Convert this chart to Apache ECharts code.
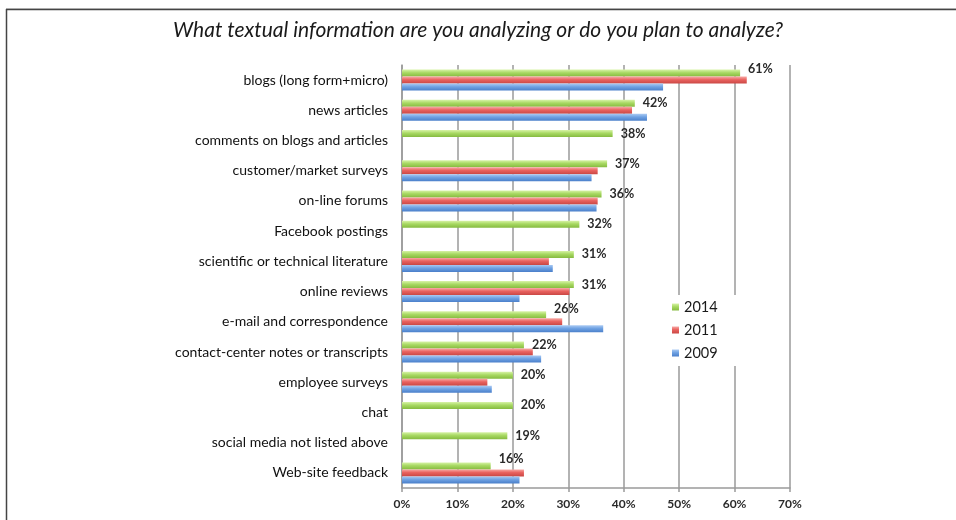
<!DOCTYPE html>
<html>
<head>
<meta charset="utf-8">
<script src="https://cdn.jsdelivr.net/npm/echarts@6/dist/echarts.min.js"></script>
<style>
  html, body { margin: 0; padding: 0; background: #fff; }
  #chart { width: 956px; height: 520px; }
</style>
</head>
<body>
<div id="chart"></div>
<script>
// Survey: sources of textual information being analyzed (share of respondents, %)
const categories = [
  'blogs (long form+micro)',
  'news articles',
  'comments on blogs and articles',
  'customer/market surveys',
  'on-line forums',
  'Facebook postings',
  'scientific or technical literature',
  'online reviews',
  'e-mail and correspondence',
  'contact-center notes or transcripts',
  'employee surveys',
  'chat',
  'social media not listed above',
  'Web-site feedback'
];
const values2014 = [61, 42, 38, 37, 36, 32, 31, 31, 26, 22, 20, 20, 19, 16];
const values2011 = [62.2, 41.5, null, 35.3, 35.3, null, 26.5, 30.2, 28.9, 23.6, 15.4, null, null, 22.0];
const values2009 = [47.1, 44.2, null, 34.2, 35.1, null, 27.2, 21.2, 36.3, 25.1, 16.2, null, null, 21.2];
const years = ['2014', '2011', '2009'];
const xTicks = [0, 10, 20, 30, 40, 50, 60, 70];

// labels that sit above the bar to clear a longer neighbour
const labelLift = { 0: -4, 8: -6, 13: -7 };

function grad(top, mid, bottom) {
  return new echarts.graphic.LinearGradient(0, 0, 0, 1, [
    { offset: 0, color: top },
    { offset: 0.45, color: mid },
    { offset: 1, color: bottom }
  ]);
}
const fills = {
  '2014': grad('#d8f3a8', '#a8d963', '#86bb40'),
  '2011': grad('#f7aaa6', '#e9625f', '#c94744'),
  '2009': grad('#aacaf3', '#6fa2e3', '#4a7fca')
};
const legendColors = { '2014': '#a4d65e', '2011': '#e8625f', '2009': '#6a9fe0' };

const font = 'Lato, "Noto Sans", sans-serif';

function barSeries(name, data, withLabels) {
  return {
    name: name,
    type: 'bar',
    barWidth: 7,
    barGap: '0%',
    color: legendColors[name],
    itemStyle: { color: fills[name] },
    data: data.map((v, i) => {
      const item = { value: v };
      if (withLabels && labelLift[i] !== undefined) {
        item.label = { offset: [0, labelLift[i]] };
      }
      return item;
    }),
    label: withLabels ? {
      show: true,
      position: 'right',
      distance: 8,
      formatter: p => p.value + '%',
      fontFamily: font,
      fontSize: 12.5,
      fontWeight: 'bold',
      color: '#2a2a2a'
    } : { show: false }
  };
}

const chart = echarts.init(document.getElementById('chart'), null, { renderer: 'canvas' });
chart.setOption({
  animation: false,
  backgroundColor: '#fff',
  title: {
    text: 'What textual information are you analyzing or do you plan to analyze?',
    left: 'center',
    top: 15,
    textStyle: {
      fontFamily: font,
      fontStyle: 'italic',
      fontWeight: 'normal',
      fontSize: 21,
      color: '#1a1a1a'
    }
  },
  graphic: [
    { type: 'line', shape: { x1: 6, y1: 8.5, x2: 956, y2: 8.5 }, style: { stroke: '#cfcfcf', lineWidth: 1 }, z: 100 },
    { type: 'line', shape: { x1: 6, y1: 9.5, x2: 956, y2: 9.5 }, style: { stroke: '#444', lineWidth: 1.5 }, z: 100 },
    { type: 'line', shape: { x1: 6.5, y1: 9, x2: 6.5, y2: 520 }, style: { stroke: '#444', lineWidth: 1.5 }, z: 100 }
  ],
  legend: {
    data: years,
    orient: 'vertical',
    left: 660,
    top: 295,
    padding: [4, 27, 5, 12],
    backgroundColor: '#fff',
    itemWidth: 7,
    itemHeight: 7,
    itemGap: 7,
    icon: 'rect',
    z: 10,
    textStyle: { fontFamily: font, fontSize: 14.5, color: '#1a1a1a', lineHeight: 16 }
  },
  grid: { left: 402, right: 166, top: 65, bottom: 32, containLabel: false },
  xAxis: {
    type: 'value',
    min: xTicks[0],
    max: xTicks[xTicks.length - 1],
    interval: 10,
    axisLine: { show: true, lineStyle: { color: '#9a9a9a', width: 1.5 } },
    axisTick: { show: true, length: 4, lineStyle: { color: '#9a9a9a', width: 1.5 } },
    splitLine: { show: true, lineStyle: { color: '#9a9a9a', width: 1.5 } },
    axisLabel: {
      formatter: v => v + '%',
      fontFamily: font,
      fontSize: 12,
      fontWeight: 'bold',
      color: '#2a2a2a',
      margin: 10
    }
  },
  yAxis: {
    type: 'category',
    data: categories,
    inverse: true,
    axisLine: { show: true, lineStyle: { color: '#9a9a9a', width: 1.5 } },
    axisTick: { show: false },
    axisLabel: { fontFamily: font, fontSize: 14, color: '#111', margin: 14 }
  },
  series: [
    barSeries('2014', values2014, true),
    barSeries('2011', values2011, false),
    barSeries('2009', values2009, false)
  ]
});
</script>
</body>
</html>
